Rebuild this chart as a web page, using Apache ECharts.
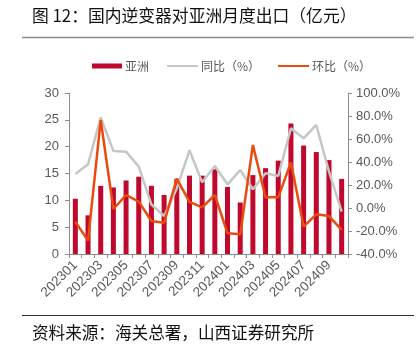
<!DOCTYPE html>
<html>
<head>
<meta charset="utf-8">
<script src="https://cdn.jsdelivr.net/npm/echarts@6/dist/echarts.min.js"></script>
<style>
  html, body { margin: 0; padding: 0; background: #fff; }
  #chart { width: 418px; height: 352px; }
</style>
</head>
<body>
<div id="chart"></div>
<script>
// 月份
const months = [
  '202301', '202302', '202303', '202304', '202305', '202306', '202307', '202308',
  '202309', '202310', '202311', '202312', '202401', '202402', '202403', '202404',
  '202405', '202406', '202407', '202408', '202409', '202410'
]
// 亚洲出口额（亿元）
const asiaValues = [
  10.3, 7.2, 12.7, 12.4, 13.7, 14.4, 12.7, 11.0, 14.0, 14.6, 14.6,
  15.8, 12.5, 9.6, 14.7, 16.0, 17.4, 24.3, 20.2, 19.0, 17.5, 14.0
]
// 同比（%）
const yoyValues = [
  29.6, 38, 78.8, 49.6, 49, 36, 3, -7, 17, 50.2, 22.3,
  36.5, 20.6, 33, 16.3, 30.2, 27.8, 69.3, 60.6, 72.2, 31.6, -3.2
]
// 环比（%）
const momValues = [
  -11.9, -28.4, 76.5, -0.9, 11.3, 5.5, -11.3, -12.8, 25.5, 5.3, 0.6,
  11.3, -22, -22.9, 54.8, 9.3, 9.3, 39.7, -16.2, -5.5, -7, -19
]
const leftTicks = { min: 0, max: 30, interval: 5 }
const rightTicks = { min: -40, max: 100, interval: 20 }

const axisGray = '#8c8c8c'
const textGray = '#595959'
const cjkFont = '"Noto Sans CJK SC", sans-serif'
const numFont = '"Liberation Sans", Arial, sans-serif'

const legendText = {
  color: textGray,
  fontSize: 12,
  fontFamily: cjkFont,
  padding: [0, 0, 0, -2]
}

const chart = echarts.init(document.getElementById('chart'))

chart.setOption({
  animation: false,
  color: ['#c0072e', '#c6c6c6', '#ea4a0b'],
  graphic: [
    {
      type: 'text',
      left: 32,
      top: 7,
      style: {
        text: '图 12：国内逆变器对亚洲月度出口（亿元）',
        font: '16.8px ' + cjkFont,
        fill: '#111'
      }
    },
    {
      type: 'line',
      shape: { x1: 22, y1: 37.5, x2: 414, y2: 37.5 },
      style: { stroke: '#8a8a8a', lineWidth: 1.5 }
    },
    {
      type: 'line',
      shape: { x1: 22, y1: 315.5, x2: 414, y2: 315.5 },
      style: { stroke: '#333', lineWidth: 1 }
    },
    {
      type: 'text',
      left: 32,
      top: 324,
      style: {
        text: '资料来源：海关总署，山西证券研究所',
        font: '16.6px ' + cjkFont,
        fill: '#111'
      }
    }
  ],
  legend: [
    {
      top: 55,
      left: 87,
      itemWidth: 30,
      itemHeight: 5,
      textStyle: legendText,
      data: [{ name: '亚洲', icon: 'rect' }]
    },
    {
      top: 55,
      left: 162,
      itemWidth: 31,
      itemHeight: 2,
      itemGap: 18,
      textStyle: legendText,
      data: [
        { name: '同比（%）', icon: 'rect' },
        { name: '环比（%）', icon: 'rect' }
      ]
    }
  ],
  grid: {
    left: 69,
    right: 70,
    top: 93,
    bottom: 98,
    containLabel: false
  },
  xAxis: {
    type: 'category',
    data: months,
    boundaryGap: true,
    axisLine: { lineStyle: { color: axisGray } },
    axisTick: { show: true, alignWithLabel: false, interval: 0, length: 4, lineStyle: { color: axisGray } },
    axisLabel: {
      interval: 1,
      rotate: 45,
      color: textGray,
      fontSize: 13.5,
      fontFamily: numFont,
      margin: 9
    }
  },
  yAxis: [
    {
      type: 'value',
      min: leftTicks.min,
      max: leftTicks.max,
      interval: leftTicks.interval,
      axisLine: { show: true, lineStyle: { color: axisGray } },
      axisTick: { show: true, length: 4, lineStyle: { color: axisGray } },
      splitLine: { show: false },
      axisLabel: { color: textGray, fontSize: 13, fontFamily: numFont, margin: 10 }
    },
    {
      type: 'value',
      min: rightTicks.min,
      max: rightTicks.max,
      interval: rightTicks.interval,
      axisLine: { show: true, lineStyle: { color: axisGray } },
      axisTick: { show: true, length: 4, lineStyle: { color: axisGray } },
      splitLine: { show: false },
      axisLabel: {
        color: textGray,
        fontSize: 13,
        fontFamily: numFont,
        margin: 8,
        formatter: (v) => v.toFixed(1) + '%'
      }
    }
  ],
  series: [
    {
      name: '亚洲',
      type: 'bar',
      barWidth: 5,
      data: asiaValues
    },
    {
      name: '同比（%）',
      type: 'line',
      yAxisIndex: 1,
      symbol: 'none',
      lineStyle: { width: 2.5 },
      data: yoyValues
    },
    {
      name: '环比（%）',
      type: 'line',
      yAxisIndex: 1,
      symbol: 'none',
      lineStyle: { width: 2.5 },
      data: momValues
    }
  ]
})
</script>
</body>
</html>
